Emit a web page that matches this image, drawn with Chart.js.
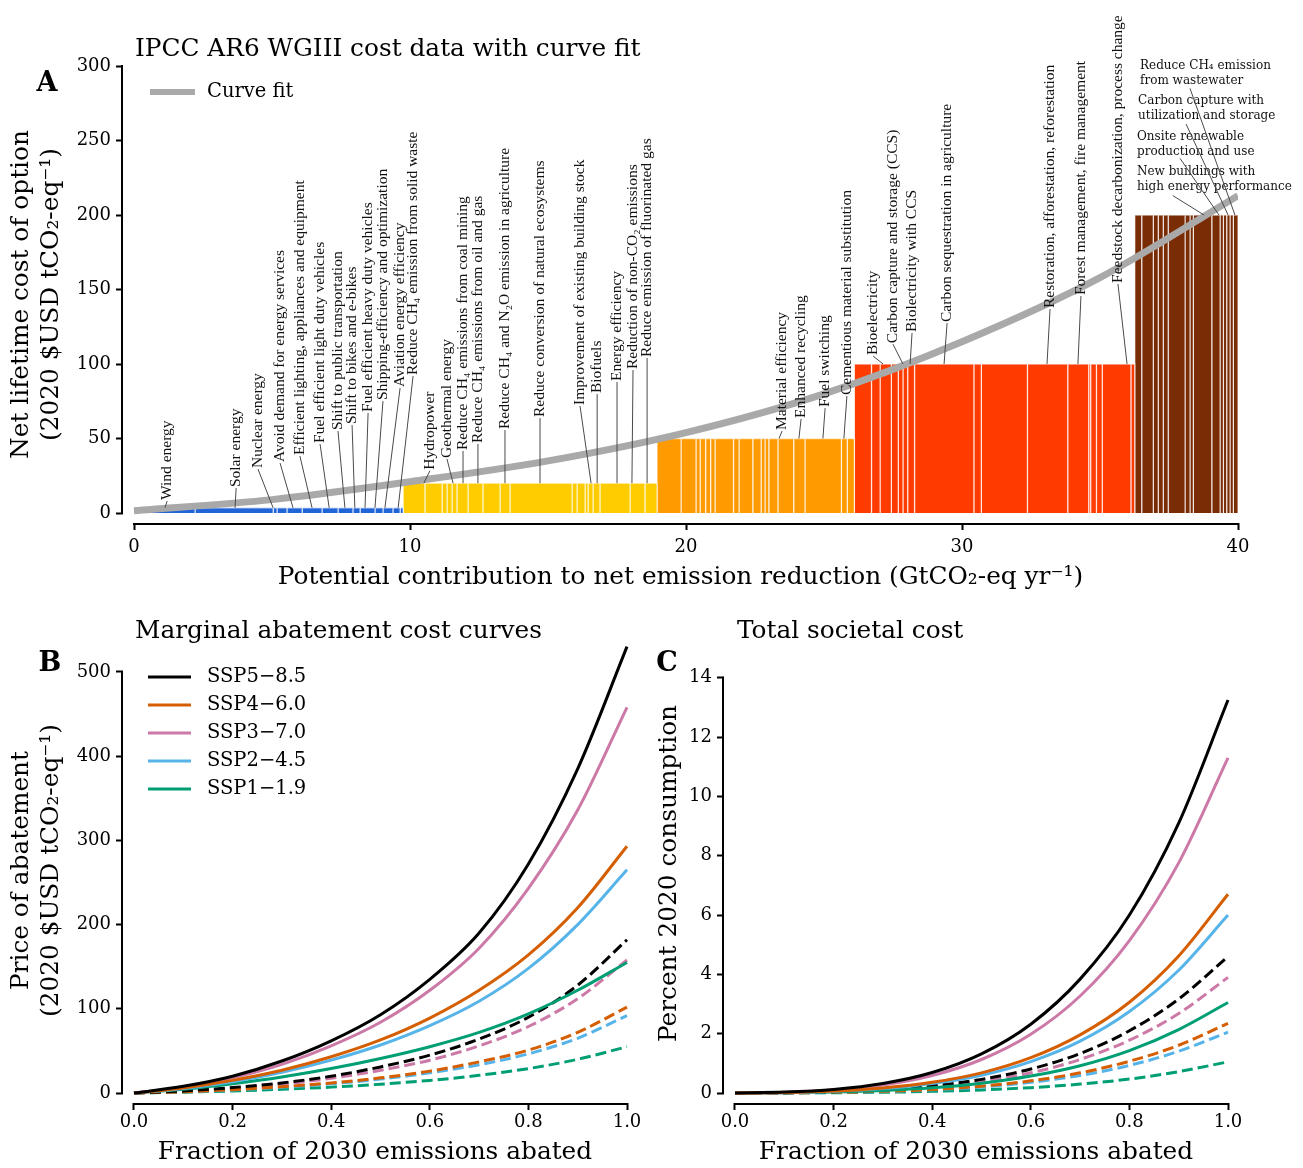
<!DOCTYPE html>
<html><head><meta charset="utf-8">
<script src="https://cdn.jsdelivr.net/npm/chart.js@4.4.0/dist/chart.umd.min.js"></script>
<style>
html,body{margin:0;padding:0;background:#fff;}
#wrap{position:relative;width:1303px;height:1168px;overflow:hidden;background:#fff;}
canvas{position:absolute;display:block;}
</style></head><body>
<div id="wrap">
<canvas id="cA" width="1303" height="600" style="left:0;top:0;width:1303px;height:600px"></canvas>
<canvas id="cB" width="650" height="568" style="left:0;top:600px;width:650px;height:568px"></canvas>
<canvas id="cC" width="653" height="568" style="left:650px;top:600px;width:653px;height:568px"></canvas>
</div>
<script>
// ================= DATA =================
// Panel A: cost level (USD/tCO2-eq) of each cost band
const costLevels = [3.5, 20, 50, 100, 200];
// widths (GtCO2-eq/yr) of the individual options in each cost band
const blueWidths   = [2.21, 2.83, 0.14, 0.36, 0.55, 0.72, 0.58, 0.54, 0.26, 0.54, 0.29, 0.36, 0.26, 0.11];
const yellowWidths = [0.79, 0.62, 0.18, 0.18, 0.18, 0.40, 0.54, 0.62, 0.36, 2.25, 0.18, 0.29, 0.11, 0.18, 0.25, 1.09, 0.54, 0.44];
const orangeWidths = [0.87, 0.54, 0.15, 0.20, 0.18, 0.16, 0.67, 0.20, 0.50, 0.30, 0.14, 0.14, 0.33, 0.57, 0.41, 1.32, 0.21, 0.26];
const redWidths    = [0.62, 0.31, 0.41, 0.25, 0.17, 0.17, 0.25, 2.15, 0.27, 1.67, 1.46, 0.76, 0.07, 0.21, 0.21, 1.04, 0.14];
const brownWidths  = [0.25, 0.42, 0.18, 0.18, 0.18, 0.61, 0.18, 0.12, 0.67, 0.30, 0.12, 0.12, 0.12, 0.12, 0.17];

// curve fit
const curveX = [0, 5, 10, 15, 20, 25, 30, 35, 40];
const curveY = [1.5, 9, 21, 35, 54, 80, 115, 158, 213];

// option labels (rotated)
const rotNames = [
 'Wind energy','Solar energy','Nuclear energy','Avoid demand for energy services',
 'Efficient lighting, appliances and equipment','Fuel efficient light duty vehicles',
 'Shift to public transportation','Shift to bikes and e-bikes','Fuel efficient heavy duty vehicles',
 'Shipping-efficiency and optimization','Aviation energy efficiency','Reduce CH\u2084 emission from solid waste',
 'Hydropower','Geothermal energy','Reduce CH\u2084 emissions from coal mining','Reduce CH\u2084 emissions from oil and gas',
 'Reduce CH\u2084 and N\u2082O emission in agriculture','Reduce conversion of natural ecosystems',
 'Improvement of existing building stock','Biofuels','Energy efficiency','Reduction of non-CO\u2082 emissions',
 'Reduce emission of fluorinated gas',
 'Material efficiency','Enhanced recycling','Fuel switching','Cementious material substitution',
 'Bioelectricity','Carbon capture and storage (CCS)','Biolectricity with CCS','Carbon sequestration in agriculture',
 'Restoration, afforestation, reforestation','Forest management, fire management','Feedstock decarbonization, process change'
];
// label anchors in data units: text x, text start (cost), option x the leader points to
const rotTextX = [1.2,3.7,4.49,5.29,6.01,6.74,7.39,7.9,8.48,9.02,9.64,10.11,
                  10.72,11.34,11.92,12.46,13.44,14.71,16.16,16.78,17.5,18.08,18.59,
                  23.48,24.17,25.04,25.83,
                  26.78,27.5,28.19,29.46,33.19,34.31,35.65];
const rotTextY = [8.7,17.4,30.2,34.2,38.9,47,55.7,59.7,67.8,75.8,84.6,92.6,
                  29,36.9,42.3,47,56.4,64.4,72.5,80.5,88.6,96.6,104.7,
                  55.7,63.8,71.1,79.2,
                  106,114,121.5,128.2,137.6,146.3,154.4];
const rotOptionX = [1.12,3.66,5.04,5.76,6.45,7.07,7.64,8.0,8.37,8.73,9.09,9.57,
                    10.5,11.56,11.92,12.46,13.44,14.71,16.56,16.78,17.5,18.04,18.59,
                    23.37,24.09,24.96,25.72,
                    27.14,27.86,28.12,29.35,33.08,34.2,35.98];
// option labels (horizontal, two lines)
const wrapNames = [
 ['Reduce CH\u2084 emission','from wastewater'],
 ['Carbon capture with','utilization and storage'],
 ['Onsite renewable','production and use'],
 ['New buildings with','high energy performance']
];
const wrapTextX = [36.45, 36.38, 36.34, 36.34];
const wrapTextY = [304, 280.5, 256.4, 232.9];
const wrapFromX = [38.26, 38.12, 37.9, 37.64];
const wrapFromY = [285, 261, 238, 213];
const wrapOptionX = [39.89, 39.64, 39.31, 38.77];

// Panels B and C
const fracAbated = [0, 0.1, 0.2, 0.3, 0.4, 0.5, 0.6, 0.7, 0.8, 0.9, 1.0];
const scenarioNames = ['SSP5\u22128.5','SSP4\u22126.0','SSP3\u22127.0','SSP2\u22124.5','SSP1\u22121.9'];
// marginal abatement cost (solid / dashed)
const macSSP5 = [0, 8, 20, 38, 62, 93, 135, 190, 272, 385, 530];
const macSSP4 = [0, 6, 15, 27, 43, 63, 89, 122, 164, 220, 293];
const macSSP3 = [0, 7, 18, 34, 56, 84, 122, 172, 243, 336, 458];
const macSSP2 = [0, 5.5, 13.5, 24.5, 39, 57, 80, 109, 148, 200, 265];
const macSSP1 = [0, 4.5, 11, 19, 29, 41, 55, 72, 94, 122, 155];
const macSSP5d = [0, 2.5, 6.5, 12, 20, 31, 45, 64, 90, 128, 182];
const macSSP4d = [0, 1.5, 4, 7.5, 12, 18, 26, 37, 51, 72, 102];
const macSSP3d = [0, 2.2, 5.5, 10.5, 17.5, 27, 39, 56, 79, 112, 158];
const macSSP2d = [0, 1.4, 3.6, 6.8, 11, 16.5, 24, 33.5, 46.5, 65, 92];
const macSSP1d = [0, 1, 2.5, 4.5, 7, 10.5, 15, 21, 29, 40, 55];
// total societal cost, % of 2020 consumption (solid / dashed)
const tscSSP5 = [0, 0.03, 0.12, 0.32, 0.69, 1.32, 2.32, 3.84, 6.0, 9.1, 13.25];
const tscSSP4 = [0, 0.015, 0.065, 0.17, 0.36, 0.68, 1.19, 1.96, 3.06, 4.62, 6.7];
const tscSSP3 = [0, 0.02, 0.1, 0.27, 0.59, 1.13, 1.98, 3.27, 5.14, 7.76, 11.3];
const tscSSP2 = [0, 0.013, 0.058, 0.15, 0.32, 0.6, 1.06, 1.75, 2.75, 4.14, 6.0];
const tscSSP1 = [0, 0.008, 0.033, 0.085, 0.175, 0.33, 0.57, 0.92, 1.43, 2.14, 3.05];
const tscSSP5d = [0, 0.01, 0.042, 0.11, 0.24, 0.46, 0.81, 1.33, 2.1, 3.17, 4.6];
const tscSSP4d = [0, 0.005, 0.022, 0.057, 0.12, 0.23, 0.41, 0.68, 1.07, 1.61, 2.35];
const tscSSP3d = [0, 0.008, 0.036, 0.095, 0.2, 0.39, 0.68, 1.13, 1.78, 2.68, 3.9];
const tscSSP2d = [0, 0.004, 0.019, 0.05, 0.107, 0.2, 0.36, 0.59, 0.93, 1.41, 2.05];
const tscSSP1d = [0, 0.002, 0.01, 0.026, 0.055, 0.105, 0.18, 0.3, 0.47, 0.72, 1.05];

const ticksAx = [0, 10, 20, 30, 40];
const ticksAy = [0, 50, 100, 150, 200, 250, 300];
const ticksFrac = [0, 0.2, 0.4, 0.6, 0.8, 1.0];
const ticksBy = [0, 100, 200, 300, 400, 500];
const ticksCy = [0, 2, 4, 6, 8, 10, 12, 14];

// ================= STYLE =================
const SERIF = '"DejaVu Serif", serif';
const TITLE_SIZE = 24.8;
const bandColors = ['#2064d8', '#ffcc00', '#ff9a00', '#ff3b00', '#7a2c05'];
const bandEdge = 'rgba(255,255,255,0.62)';
const scenColors = ['#000000', '#D55E00', '#CC79A7', '#56B4E9', '#009E73'];

function mkAxis(ticksArr, fmt, size, pad, extra) {
  return Object.assign({
    type: 'linear',
    afterBuildTicks: s => { s.ticks = ticksArr.map(v => ({ value: v })); },
    grid: { display: true, drawOnChartArea: false, drawTicks: true, tickLength: 7, tickWidth: 2, tickColor: '#000', color: '#000' },
    border: { display: false },
    ticks: { color: '#000', font: { family: SERIF, size: 18 }, autoSkip: false, maxRotation: 0, padding: pad, callback: v => fmt(v) }
  }, extra, { afterFit: s => { if (s.isHorizontal()) s.height = size; else s.width = size; } });
}

function makeDecor(o) {
  return {
    id: 'decor_' + o.letter,
    afterDraw(chart) {
      const ctx = chart.ctx, xs = chart.scales.x, ys = chart.scales.y, ca = chart.chartArea;
      ctx.save();
      ctx.strokeStyle = '#000'; ctx.lineWidth = 2; ctx.lineCap = 'butt';
      const yT = ys.getPixelForValue(o.yTop), yB = ys.getPixelForValue(o.yBot);
      ctx.beginPath(); ctx.moveTo(ca.left - 1, yT - 1); ctx.lineTo(ca.left - 1, yB + 1); ctx.stroke();
      const xL = xs.getPixelForValue(o.xLeft), xR = xs.getPixelForValue(o.xRight);
      ctx.beginPath(); ctx.moveTo(xL - 1, ca.bottom + 1); ctx.lineTo(xR + 1, ca.bottom + 1); ctx.stroke();
      ctx.fillStyle = '#000'; ctx.textBaseline = 'middle';
      ctx.font = 'bold 27px ' + SERIF; ctx.textAlign = 'center';
      ctx.fillText(o.letter, o.letterX, o.letterY);
      ctx.font = TITLE_SIZE + 'px ' + SERIF; ctx.textAlign = 'left';
      ctx.fillText(o.title, o.titleX, o.titleY);
      ctx.font = '19.5px ' + SERIF;
      o.legend.forEach((it, i) => {
        const y = o.legY0 + i * o.legDy;
        ctx.strokeStyle = it.color; ctx.lineWidth = it.width;
        ctx.beginPath(); ctx.moveTo(o.legX0, y); ctx.lineTo(o.legX1, y); ctx.stroke();
        ctx.fillStyle = '#000'; ctx.fillText(it.label, o.legTextX, y);
      });
      ctx.restore();
    }
  };
}

// ================= PANEL A =================
const bandWidths = [blueWidths, yellowWidths, orangeWidths, redWidths, brownWidths];
const bandStarts = [];
const datasetsA = [];
let cursor = 0;
bandWidths.forEach((ws, b) => {
  bandStarts.push(cursor);
  ws.forEach(w => {
    const x0 = cursor, x1 = cursor + w, h = costLevels[b];
    datasetsA.push({
      data: [{ x: x0, y: 0 }, { x: x0, y: h }, { x: x1, y: h }, { x: x1, y: 0 }],
      fill: 'origin', backgroundColor: bandColors[b], borderColor: bandEdge, borderWidth: 1.3,
      pointRadius: 0, tension: 0, order: 1
    });
    cursor = x1;
  });
});
bandStarts.push(cursor);
function costAt(x) {
  for (let b = 0; b < costLevels.length; b++) if (x >= bandStarts[b] && x <= bandStarts[b + 1]) return costLevels[b];
  return 0;
}
datasetsA.push({
  data: curveX.map((x, i) => ({ x, y: curveY[i] })),
  borderColor: '#a9a9a9', borderWidth: 7, pointRadius: 0, fill: false,
  cubicInterpolationMode: 'monotone', order: 0, borderCapStyle: 'butt'
});

const labelsA = {
  id: 'labelsA',
  afterDatasetsDraw(chart) {
    const ctx = chart.ctx, xs = chart.scales.x, ys = chart.scales.y;
    ctx.save();
    ctx.strokeStyle = '#4a4a4a'; ctx.lineWidth = 1;
    ctx.fillStyle = '#111';
    ctx.font = '15.5px "Liberation Serif", serif';
    ctx.textAlign = 'left'; ctx.textBaseline = 'middle';
    rotNames.forEach((t, i) => {
      const px = xs.getPixelForValue(rotTextX[i]), py = ys.getPixelForValue(rotTextY[i]);
      const lx = xs.getPixelForValue(rotOptionX[i]), ly = ys.getPixelForValue(costAt(rotOptionX[i]));
      ctx.beginPath(); ctx.moveTo(px, py + 1); ctx.lineTo(lx, ly); ctx.stroke();
      ctx.save(); ctx.translate(px, py); ctx.rotate(-Math.PI / 2); ctx.fillText(t, 0, 0); ctx.restore();
    });
    ctx.font = '12px ' + SERIF; ctx.textBaseline = 'top';
    wrapNames.forEach((lines, i) => {
      const px = xs.getPixelForValue(wrapTextX[i]), py = ys.getPixelForValue(wrapTextY[i]);
      lines.forEach((ln, k) => ctx.fillText(ln, px, py + k * 15));
    });
    wrapNames.forEach((lines, i) => {
      const fx = xs.getPixelForValue(wrapFromX[i]), fy = ys.getPixelForValue(wrapFromY[i]);
      const lx = xs.getPixelForValue(wrapOptionX[i]), ly = ys.getPixelForValue(costAt(wrapOptionX[i]));
      ctx.beginPath(); ctx.moveTo(fx, fy); ctx.lineTo(lx, ly); ctx.stroke();
    });
    ctx.restore();
  }
};

new Chart(document.getElementById('cA'), {
  type: 'line',
  data: { datasets: datasetsA },
  options: {
    responsive: false, animation: false, devicePixelRatio: 1, events: [],
    layout: { padding: { top: 66, right: 65, left: 0, bottom: 0 } },
    plugins: { legend: { display: false }, tooltip: { enabled: false } },
    scales: {
      x: mkAxis(ticksAx, v => String(v), 77, 7, {
        min: -0.4, max: 40,
        title: { display: true, text: 'Potential contribution to net emission reduction (GtCO\u2082-eq yr\u207B\u00B9)', color: '#000',
                 font: { family: SERIF, size: TITLE_SIZE, lineHeight: 1.2 }, padding: { top: 0, bottom: 8 } }
      }),
      y: mkAxis(ticksAy, v => String(v), 123, 5, {
        min: -6.7, max: 300,
        title: { display: true, text: ['Net lifetime cost of option', '(2020 $USD tCO\u2082-eq\u207B\u00B9)'], color: '#000',
                 font: { family: SERIF, size: TITLE_SIZE, lineHeight: 30 / TITLE_SIZE }, padding: { top: 7, bottom: 0 } }
      })
    }
  },
  plugins: [labelsA, makeDecor({
    letter: 'A', letterX: 47, letterY: 84, title: 'IPCC AR6 WGIII cost data with curve fit', titleX: 135, titleY: 50,
    yTop: 300, yBot: 0, xLeft: 0, xRight: 40,
    legend: [{ label: 'Curve fit', color: '#a9a9a9', width: 6 }], legX0: 150, legX1: 195, legTextX: 207, legY0: 92, legDy: 28
  })]
});

// ================= PANELS B & C =================
const macSolid = [macSSP5, macSSP4, macSSP3, macSSP2, macSSP1];
const macDashed = [macSSP5d, macSSP4d, macSSP3d, macSSP2d, macSSP1d];
const tscSolid = [tscSSP5, tscSSP4, tscSSP3, tscSSP2, tscSSP1];
const tscDashed = [tscSSP5d, tscSSP4d, tscSSP3d, tscSSP2d, tscSSP1d];

function lineSets(solid, dashed) {
  const out = [];
  solid.forEach((arr, i) => out.push({
    label: scenarioNames[i], data: fracAbated.map((x, k) => ({ x, y: arr[k] })),
    borderColor: scenColors[i], borderWidth: 3, pointRadius: 0, fill: false, cubicInterpolationMode: 'monotone', clip: false
  }));
  dashed.forEach((arr, i) => out.push({
    label: scenarioNames[i] + ' dashed', data: fracAbated.map((x, k) => ({ x, y: arr[k] })),
    borderColor: scenColors[i], borderWidth: 3, borderDash: [11, 5], pointRadius: 0, fill: false, cubicInterpolationMode: 'monotone', clip: false
  }));
  return out;
}
const legendB = scenarioNames.map((n, i) => ({ label: n, color: scenColors[i], width: 3 }));

new Chart(document.getElementById('cB'), {
  type: 'line',
  data: { datasets: lineSets(macSolid, macDashed) },
  options: {
    responsive: false, animation: false, devicePixelRatio: 1, events: [],
    layout: { padding: { top: 38, right: 23, left: 0, bottom: 0 } },
    plugins: { legend: { display: false }, tooltip: { enabled: false } },
    scales: {
      x: mkAxis(ticksFrac, v => v.toFixed(1), 65, 2, {
        min: -0.0223, max: 1.0,
        title: { display: true, text: 'Fraction of 2030 emissions abated', color: '#000',
                 font: { family: SERIF, size: TITLE_SIZE, lineHeight: 1.2 }, padding: { top: 0, bottom: 1 } }
      }),
      y: mkAxis(ticksBy, v => String(v), 123, 5, {
        min: -11.85, max: 540.3,
        title: { display: true, text: ['Price of abatement', '(2020 $USD tCO\u2082-eq\u207B\u00B9)'], color: '#000',
                 font: { family: SERIF, size: TITLE_SIZE, lineHeight: 30 / TITLE_SIZE }, padding: { top: 7, bottom: 0 } }
      })
    }
  },
  plugins: [makeDecor({
    letter: 'B', letterX: 50, letterY: 64, title: 'Marginal abatement cost curves', titleX: 135, titleY: 32,
    yTop: 500, yBot: 0, xLeft: 0, xRight: 1,
    legend: legendB, legX0: 148, legX1: 191, legTextX: 207, legY0: 77, legDy: 28
  })]
});

new Chart(document.getElementById('cC'), {
  type: 'line',
  data: { datasets: lineSets(tscSolid, tscDashed) },
  options: {
    responsive: false, animation: false, devicePixelRatio: 1, events: [],
    layout: { padding: { top: 44, right: 75, left: 0, bottom: 0 } },
    plugins: { legend: { display: false }, tooltip: { enabled: false } },
    scales: {
      x: mkAxis(ticksFrac, v => v.toFixed(1), 65, 2, {
        min: -0.0223, max: 1.0,
        title: { display: true, text: 'Fraction of 2030 emissions abated', color: '#000',
                 font: { family: SERIF, size: TITLE_SIZE, lineHeight: 1.2 }, padding: { top: 0, bottom: 1 } }
      }),
      y: mkAxis(ticksCy, v => String(v), 74, 5, {
        min: -0.337, max: 15.14,
        title: { display: true, text: 'Percent 2020 consumption', color: '#000',
                 font: { family: SERIF, size: TITLE_SIZE, lineHeight: 30 / TITLE_SIZE }, padding: { top: 5, bottom: 0 } }
      })
    }
  },
  plugins: [makeDecor({
    letter: 'C', letterX: 17, letterY: 64, title: 'Total societal cost', titleX: 87, titleY: 32,
    yTop: 14, yBot: 0, xLeft: 0, xRight: 1,
    legend: [], legX0: 0, legX1: 0, legTextX: 0, legY0: 0, legDy: 0
  })]
});
</script>
</body></html>
